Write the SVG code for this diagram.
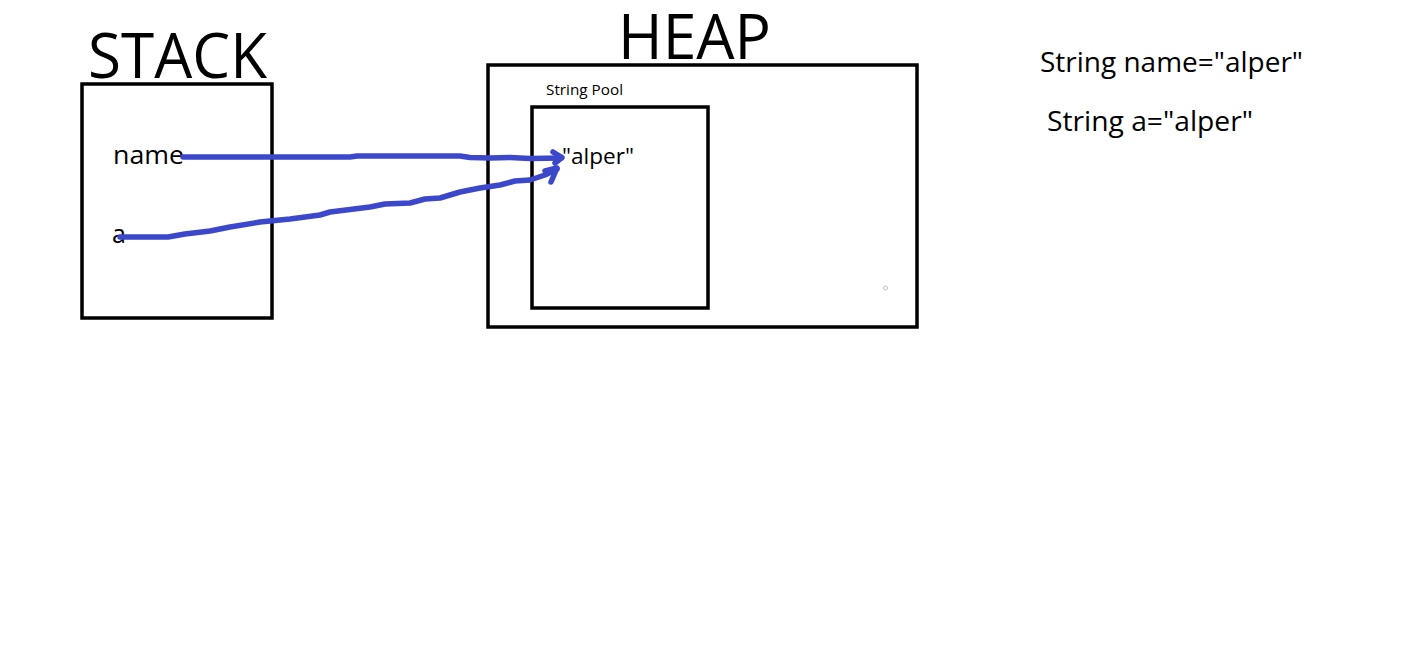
<svg xmlns="http://www.w3.org/2000/svg" width="1416" height="672" viewBox="0 0 1416 672">
<style>
.box{fill:none;stroke:#000;stroke-width:3.5}
.t{font-family:"Open Sans","Noto Sans",sans-serif;fill:#000}
.pen{fill:none;stroke:#3c48cc;stroke-width:5.5;stroke-linecap:round;stroke-linejoin:round}
</style>
<rect width="1416" height="672" fill="#fff"/>
<g id="stack">
<text class="t" x="88" y="78" font-size="62" textLength="179" lengthAdjust="spacingAndGlyphs">STACK</text>
<rect class="box" x="82" y="84" width="190" height="234"/>
<text class="t" x="113" y="164" font-size="25" textLength="71" lengthAdjust="spacingAndGlyphs">name</text>
<text class="t" x="112" y="243" font-size="25">a</text>
</g>
<g id="heap">
<text class="t" x="618" y="59" font-size="62" textLength="153" lengthAdjust="spacingAndGlyphs">HEAP</text>
<rect class="box" x="488" y="65" width="429" height="262"/>
<circle cx="885.5" cy="288" r="2" fill="none" stroke="#b8bccc" stroke-width="1"/>
</g>
<g id="pool">
<text class="t" x="546" y="95" font-size="15" textLength="77" lengthAdjust="spacingAndGlyphs">String Pool</text>
<rect class="box" x="532" y="107" width="176" height="201"/>
<text class="t" x="562" y="164" font-size="22" textLength="72" lengthAdjust="spacingAndGlyphs">"alper"</text>
</g>
<g id="code">
<text class="t" x="1040" y="72" font-size="27" textLength="263" lengthAdjust="spacingAndGlyphs">String name="alper"</text>
<text class="t" x="1047" y="131" font-size="27" textLength="206" lengthAdjust="spacingAndGlyphs">String a="alper"</text>
</g>
<g id="connectors">
<path class="pen" d="M183,157 L350,157 L357,156 L460,156 L470,157.5 L490,158 L510,157.5 L530,158.5 L561,158"/>
<path class="pen" d="M553,152 L562,157.5 L555,163"/>
<path class="pen" d="M120,237 L168,237 L185,234 L210,231 L230,227 L260,222 L290,219 L320,215 L330,212 L370,207 L385,204 L410,203 L425,199 L440,198 L460,192 L480,188 L500,185 L515,181 L530,180 L545,175 L557,169"/>
<path class="pen" d="M545,171 L557,168 L551,182"/>
</g>
</svg>
